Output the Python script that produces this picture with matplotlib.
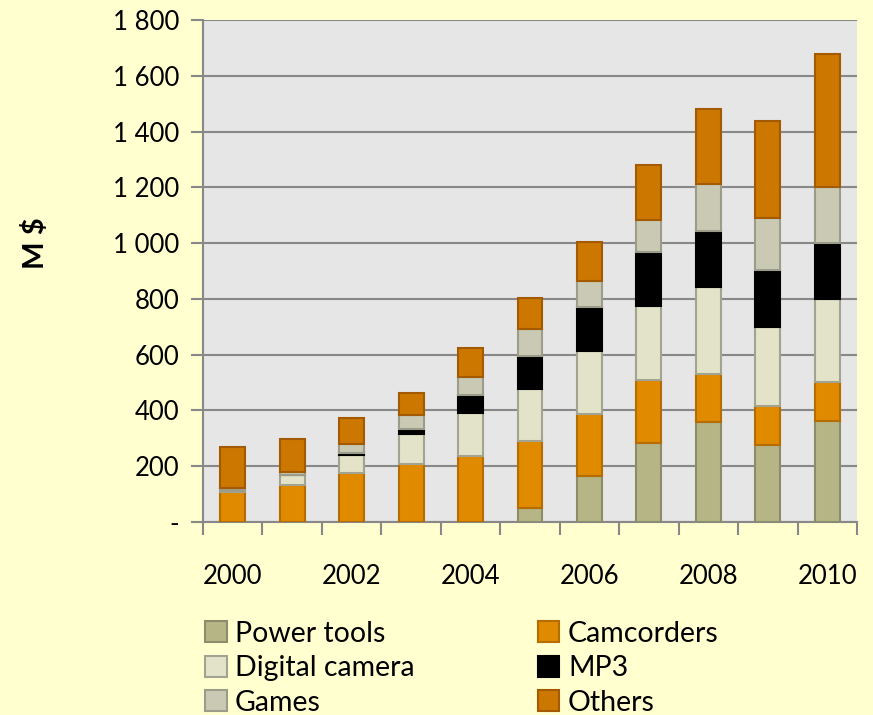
import matplotlib
matplotlib.use("Agg")
import matplotlib.pyplot as plt
import numpy as np

years = [2000, 2001, 2002, 2003, 2004, 2005, 2006, 2007, 2008, 2009, 2010]
power_tools = [0, 0, 0, 0, 0, 49, 166, 284, 360, 276, 363]
camcorders = [106, 132, 174, 207, 235, 241, 221, 225, 170, 140, 138]
digital_camera = [10, 35, 65, 107, 156, 186, 225, 267, 312, 282, 297]
mp3 = [0, 3, 7, 18, 64, 119, 160, 191, 202, 204, 204]
games = [6, 10, 32, 53, 66, 97, 92, 115, 169, 188, 199]
others = [148, 117, 96, 76, 102, 111, 141, 199, 269, 349, 476]

series = [
    ("Power tools", power_tools, "#b5b586", "#8c8c6a"),
    ("Camcorders", camcorders, "#e08a00", "#b56c00"),
    ("Digital camera", digital_camera, "#e3e3c9", "#a3a392"),
    ("MP3", mp3, "#000000", "#000000"),
    ("Games", games, "#c9c9b4", "#9c9c8a"),
    ("Others", others, "#cc7700", "#a35a00"),
]

plt.rcParams['font.family'] = ['Lato', 'DejaVu Sans']

fig = plt.figure(figsize=(8.73, 7.15), dpi=100)
fig.patch.set_facecolor("#ffffcf")
ax = fig.add_axes([0.2325, 0.2699, 0.7492, 0.7021])
ax.set_facecolor("#e6e6e6")

x = np.arange(len(years))
bottom = np.zeros(len(years))
handles = {}
for name, vals, color, edge in series:
    vals = np.array(vals, dtype=float)
    b = ax.bar(x, vals, width=0.42, bottom=bottom, color=color,
               edgecolor=edge, linewidth=1.5, label=name, zorder=3)
    handles[name] = b
    bottom += vals

ax.set_xlim(-0.5, len(years) - 0.5)
ax.set_ylim(0, 1800)
ax.set_yticks(range(0, 1801, 200))
ax.set_yticklabels(["-"] + [f"{v:,}".replace(",", " ") for v in range(200, 1801, 200)])
ax.yaxis.grid(True, color="#888888", linewidth=1.5, zorder=0)
ax.set_axisbelow(True)

ax.set_xticks(x)
ax.set_xticklabels([str(y) if y % 2 == 0 else "" for y in years])
ax.set_xticks(np.arange(-0.5, len(years)), minor=True)
ax.tick_params(axis="x", which="major", length=0, labelsize=18.5, pad=30)
ax.tick_params(axis="x", which="minor", length=9, width=1.5, color="#888888")
ax.tick_params(axis="y", length=9, width=1.5, color="#888888", labelsize=18.5, pad=8)

for side in ["top", "right"]:
    ax.spines[side].set_visible(False)
for side in ["left", "bottom"]:
    ax.spines[side].set_color("#888888")
    ax.spines[side].set_linewidth(1.5)

ax.set_ylabel("M $", fontsize=21, fontweight="bold")
ax.yaxis.set_label_coords(-0.235, 0.556)

order = ["Power tools", "Digital camera", "Games", "Camcorders", "MP3", "Others"]
fig.legend([handles[n] for n in order], order, ncol=2, frameon=False,
           loc="upper left", bbox_to_anchor=(0.222, 0.148), fontsize=20.5,
           handlelength=0.75, handleheight=0.75, handletextpad=0.3,
           columnspacing=4.33, labelspacing=0.3, borderaxespad=0)

fig.savefig("out.png", dpi=100, facecolor=fig.get_facecolor())
